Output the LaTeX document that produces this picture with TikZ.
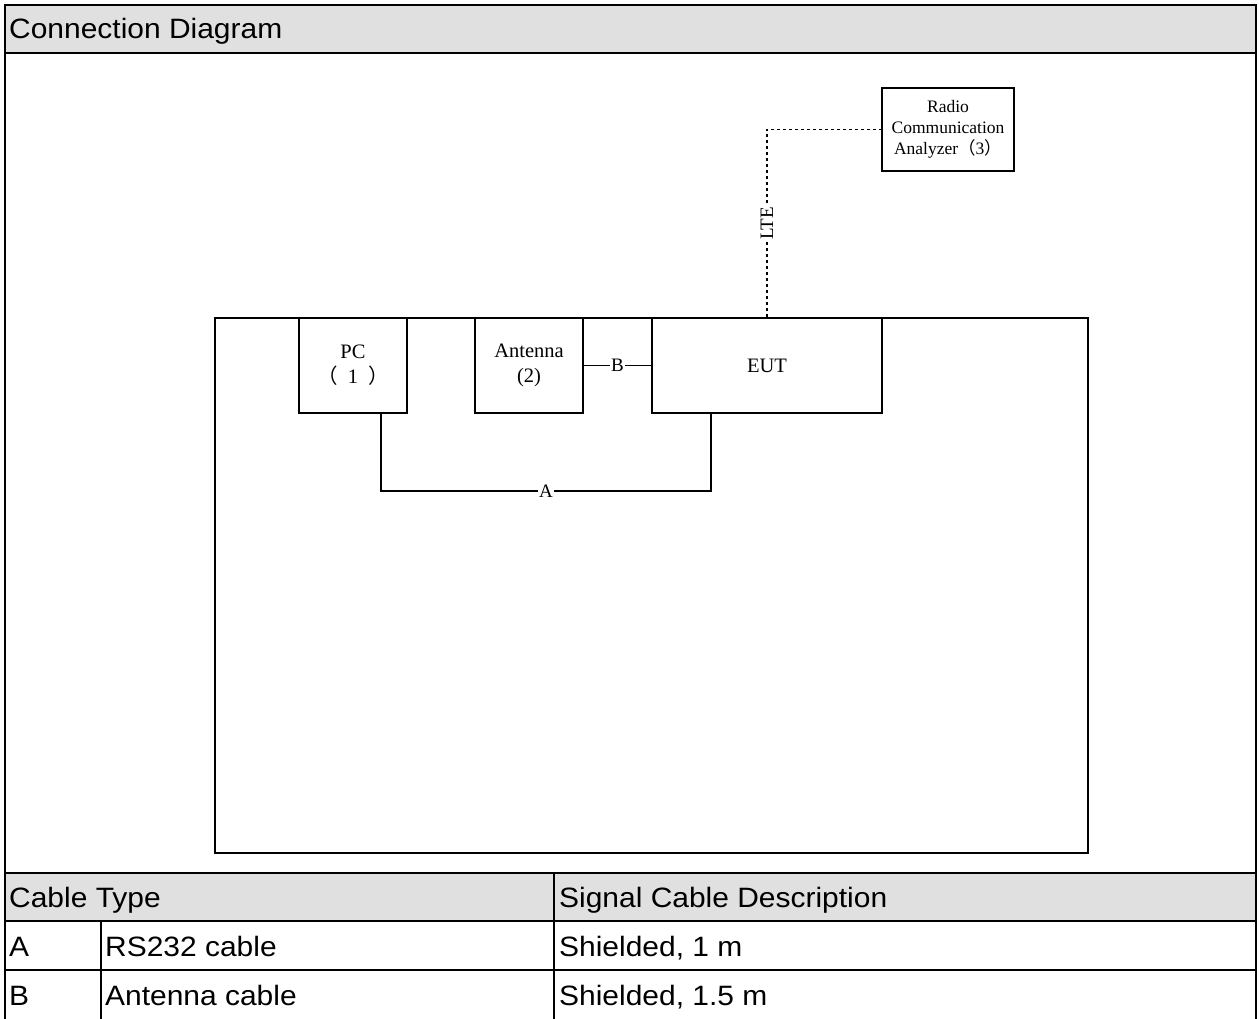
\documentclass[tikz,border=0pt]{standalone}
\usepackage{fontspec}
\setmainfont{Liberation Serif}
\newfontfamily\tablefont[FakeStretch=1.07]{Liberation Sans}
\newfontfamily\cjk{Noto Sans CJK SC}
\newcommand\fwopen{{\cjk\kern-0.5em（\kern0.5em}}
\newcommand\fwclose{{\cjk\kern0.5em）\kern-0.5em}}
\definecolor{headgray}{HTML}{E0E0E0}
\begin{document}
\begin{tikzpicture}[
  x=1pt, y=-1pt,
  frame/.style={line width=2.6pt},
  cell/.style={anchor=base west, font=\fontsize{28}{32}\tablefont, inner sep=0pt},
  unit/.style={
    rectangle, draw, line width=1.3pt, minimum height=95pt,
    align=center, font=\fontsize{20.5}{25}\selectfont, inner sep=0pt
  },
  cable/.style={line width=1.3pt},
  tag/.style={fill=white, inner sep=1.5pt, font=\fontsize{19}{22}\selectfont}
]
\useasboundingbox (0,0) rectangle (1259,1019);

% Table frame
\fill[headgray] (5,5) rectangle (1256,53);
\fill[headgray] (5,873) rectangle (1256,921);
\draw[frame] (5,1025) -- (5,5) -- (1256,5) -- (1256,1025);
\draw[frame] (5,53) -- (1256,53);
\draw[frame] (5,873) -- (1256,873);
\draw[frame] (5,921) -- (1256,921);
\draw[frame] (5,970) -- (1256,970);
\draw[frame] (101,921) -- (101,1025);
\draw[frame] (554,873) -- (554,1025);

% Table texts
\node[cell] (title) at (9,39) {Connection Diagram};
\node[cell] (typehead) at (9,907) {Cable Type};
\node[cell] (deschead) at (559,907) {Signal Cable Description};
\node[cell] (rowa) at (9,956) {A};
\node[cell] (rowacable) at (105,956) {RS232 cable};
\node[cell] (rowadesc) at (559,956) {Shielded, 1 m};
\node[cell] (rowb) at (9,1005) {B};
\node[cell] (rowbcable) at (105,1005) {Antenna cable};
\node[cell] (rowbdesc) at (559,1005) {Shielded, 1.5 m};

% Test setup
\node[draw, line width=1.3pt, minimum width=873pt, minimum height=535pt,
  inner sep=0pt] (area) at (651.5,585.5) {};
\node[unit, minimum width=108pt] (pc) at (353,365.5)
  {PC\\\fwopen1\fwclose};
\node[unit, minimum width=108pt] (antenna) at (529,365.5)
  {Antenna\\(2)};
\node[unit, minimum width=230pt] (eut) at (767,365.5) {EUT};
\node[unit, minimum width=132pt, minimum height=83pt,
  font=\fontsize{17.5}{21}\selectfont] (analyzer) at (948,129.5)
  {Radio\\Communication\\Analyzer{\cjk（}3{\cjk）}};

% Cables
\coordinate (pcdrop) at (381,491);
\coordinate (eutdrop) at (711,491);
\coordinate (ltebend) at (767,129.5);
\draw[cable] (antenna.east) -- node[tag] {B} (eut.west);
\draw[cable] (pc.south -| pcdrop) -- (pcdrop)
  -- node[tag] {A} (eutdrop) -- (eut.south -| eutdrop);
\draw[cable, dashed] (eut.north) -- node[tag, rotate=90] {LTE} (ltebend)
  -- (analyzer.west);
\end{tikzpicture}
\end{document}
